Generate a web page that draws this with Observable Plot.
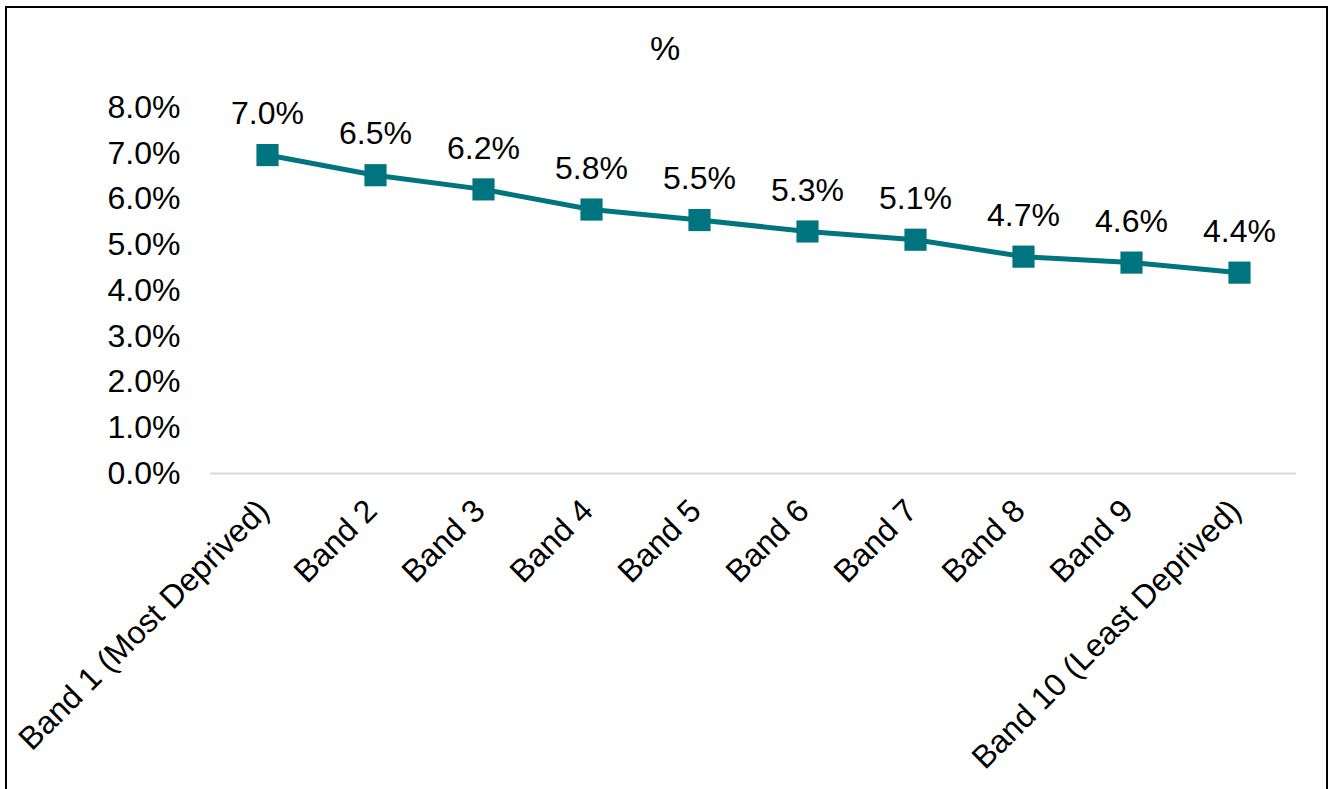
<!DOCTYPE html>
<html>
<head>
<meta charset="utf-8">
<script src="https://cdn.jsdelivr.net/npm/d3@7"></script>
<script src="https://cdn.jsdelivr.net/npm/@observablehq/plot@0.6"></script>
<style>
  html, body { margin: 0; padding: 0; background: #fff; overflow: hidden; }
  #wrap { position: relative; width: 1330px; height: 789px; font-family: "Liberation Sans", Arial, sans-serif; }
  #border { position: absolute; left: 5px; top: 6px; width: 1319px; height: 800px; border: 2px solid #000; pointer-events: none; }
  #title { position: absolute; left: 0; width: 1330px; top: 29px; text-align: center; font-size: 34px; color: #000; }
  #chart { position: absolute; left: 0; top: 0; }
</style>
</head>
<body>
<div id="wrap">
  <div id="chart"></div>
  <div id="title">%</div>
  <div id="border"></div>
</div>
<script>
const categories = ["Band 1 (Most Deprived)", "Band 2", "Band 3", "Band 4", "Band 5", "Band 6", "Band 7", "Band 8", "Band 9", "Band 10 (Least Deprived)"];
const values = [6.96, 6.52, 6.21, 5.77, 5.54, 5.29, 5.11, 4.74, 4.61, 4.39];
const yTicks = [0, 1, 2, 3, 4, 5, 6, 7, 8];

const data = categories.map((c, i) => ({band: c, value: values[i]}));
const teal = "#00747f";

const chart = Plot.plot({
  width: 1330,
  height: 789,
  marginLeft: 210,
  marginRight: 34,
  marginTop: 107,
  marginBottom: 316,
  style: {fontFamily: "Liberation Sans, Arial, sans-serif", fontSize: "32px", color: "#000", background: "transparent"},
  x: {type: "point", domain: categories, padding: 0.5, label: null},
  y: {domain: [0, 8], label: null},
  marks: [
    Plot.ruleY([0], {stroke: "#d9d9d9", strokeWidth: 2}),
    Plot.axisY({ticks: yTicks, tickFormat: d => d.toFixed(1) + "%", tickSize: 0, tickPadding: 30, label: null, fontSize: 32}),
    Plot.axisX({tickSize: 0, tickPadding: 32, dx: -4, tickRotate: -45, label: null, fontSize: 32}),
    Plot.line(data, {x: "band", y: "value", stroke: teal, strokeWidth: 5}),
    Plot.dot(data, {x: "band", y: "value", symbol: "square", r: 12.5, fill: teal, stroke: "none"}),
    Plot.text(data, {x: "band", y: "value", text: d => d.value.toFixed(1) + "%", dy: -41, fontSize: 32, fill: "#000"})
  ]
});
document.getElementById("chart").appendChild(chart);
</script>
</body>
</html>
